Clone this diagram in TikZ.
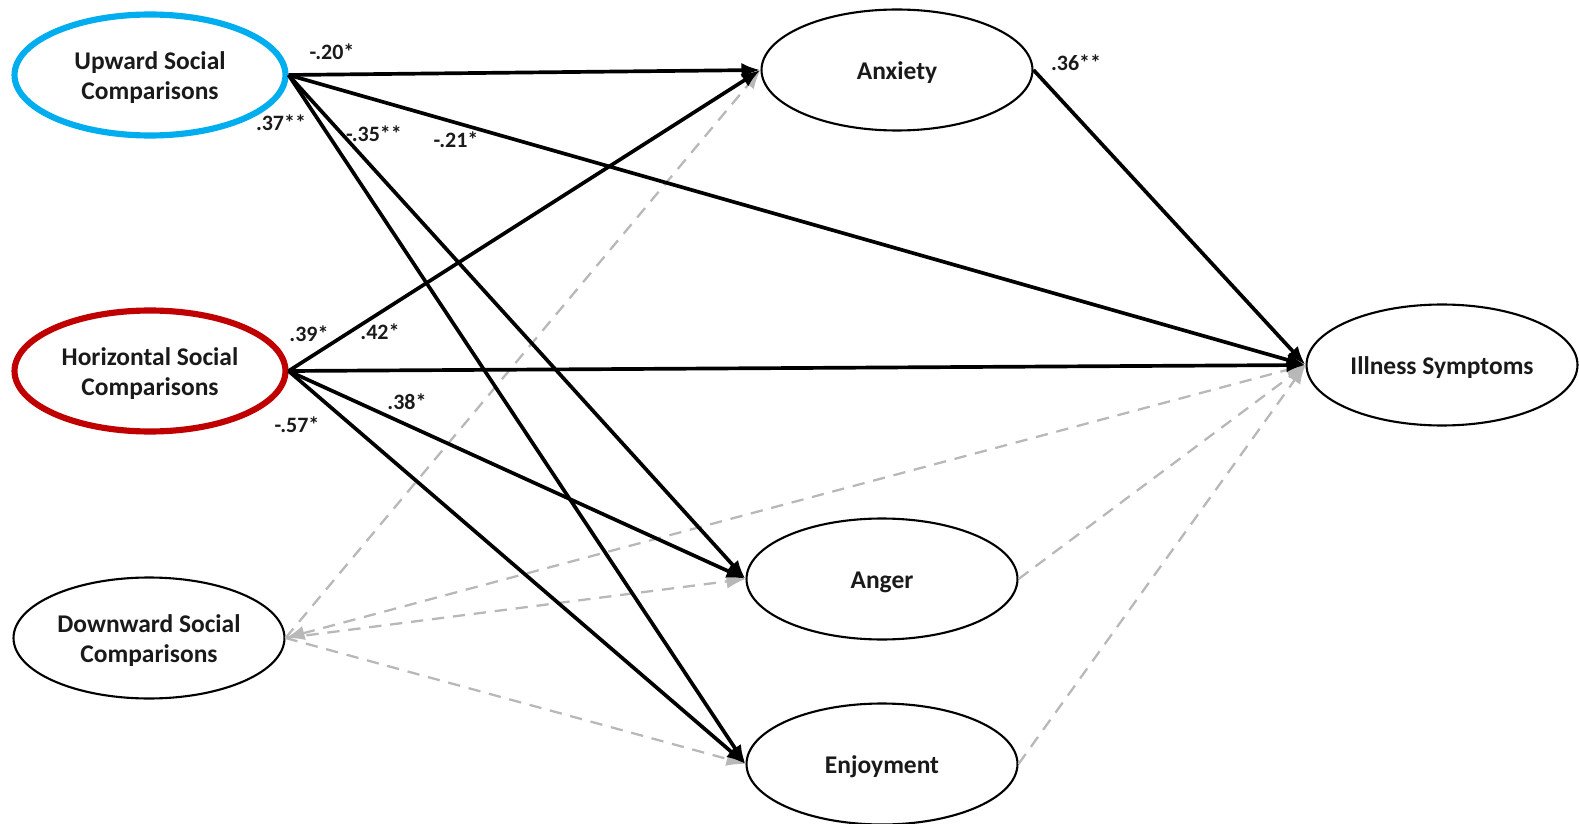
\documentclass[tikz,border=0pt]{standalone}
\usepackage{fontspec}
\setmainfont{Carlito}
\usetikzlibrary{
  arrows.meta,
  shapes.geometric
}
\definecolor{ink}{HTML}{1A1A1A}
\definecolor{upblue}{HTML}{00AEEF}
\definecolor{horred}{HTML}{C00000}
\definecolor{nsgray}{HTML}{B8B8B8}
% two centred lines, set a little below the centre of the ellipse
\newcommand{\twoline}[2]{\raisebox{-1.8pt}[\height][\depth]{\begin{tabular}{@{}c@{}}#1\\#2\end{tabular}}}
\tikzset{
  >={Latex[length=3.8mm,width=2.9mm]},
  every picture/.style={line join=round},
  every node/.style={font=\bfseries\fontsize{14.5}{17}\selectfont, text=ink},
  construct/.style={
    ellipse,
    draw=black,
    fill=white,
    line width=1.2pt,
    minimum width=5.42cm,
    minimum height=2.42cm,
    inner sep=0pt,
    % push the text a little below the centre
    execute at begin node={\rule{0pt}{13pt}}
  },
  upconstruct/.style={construct, draw=upblue, line width=3.5pt},
  horconstruct/.style={construct, draw=horred, line width=3.5pt},
  sigpath/.style={->, line width=2.1pt, draw=black},
  nspath/.style={->, line width=1.3pt, draw=nsgray, dash pattern=on 7pt off 5pt},
  coef/.style={font=\bfseries\fontsize{12.5}{14}\selectfont, inner sep=1pt}
}

\begin{document}
\begin{tikzpicture}[x=0.02cm, y=-0.02cm]
  \useasboundingbox (0,0) rectangle (1579,824);

  % Predictors
  \node[upconstruct]  (up)   at (150,75)  {\twoline{Upward Social}{Comparisons}};
  \node[horconstruct] (hor)  at (150,371) {\twoline{Horizontal Social}{Comparisons}};
  \node[construct]    (down) at (149,638) {\twoline{Downward Social}{Comparisons}};

  % Emotions
  \node[construct] (anx) at (897,70)  {Anxiety};
  \node[construct] (ang) at (882,579) {Anger};
  \node[construct] (enj) at (882,764) {Enjoyment};

  % Outcome
  \node[construct] (ill) at (1442,365) {Illness Symptoms};

  % Non-significant paths
  \draw[nspath] (down.east) -- (anx.west);
  \draw[nspath] (down.east) -- (ang.west);
  \draw[nspath] (down.east) -- (enj.west);
  \draw[nspath, <->] (down.east) -- (ill.west);
  \draw[nspath] (ang.east) -- (ill.west);
  \draw[nspath] (enj.east) -- (ill.west);

  % Significant paths
  \draw[sigpath] (up.east) -- (anx.west);
  \draw[sigpath] (up.east) -- (ill.west);
  \draw[sigpath] (up.east) -- (ang.west);
  \draw[sigpath] (up.east) -- (enj.west);
  \draw[sigpath] (hor.east) -- (anx.west);
  \draw[sigpath] (hor.east) -- (ill.west);
  \draw[sigpath] (hor.east) -- (ang.west);
  \draw[sigpath] (hor.east) -- (enj.west);
  \draw[sigpath] (anx.east) -- (ill.west);

  % Coefficients
  \node[coef] (cupanx) at (332,52)  {-.20*};
  \node[coef] (cupenj) at (281,123) {.37**};
  \node[coef] (cupang) at (374,134) {-.35**};
  \node[coef] (cupill) at (456,140) {-.21*};
  \node[coef] (canxill) at (1076,63) {.36**};
  \node[coef] (choranx) at (309,334) {.39*};
  \node[coef] (chorill) at (380,332) {.42*};
  \node[coef] (chorang) at (407,402) {.38*};
  \node[coef] (chorenj) at (297,425) {-.57*};
\end{tikzpicture}
\end{document}
